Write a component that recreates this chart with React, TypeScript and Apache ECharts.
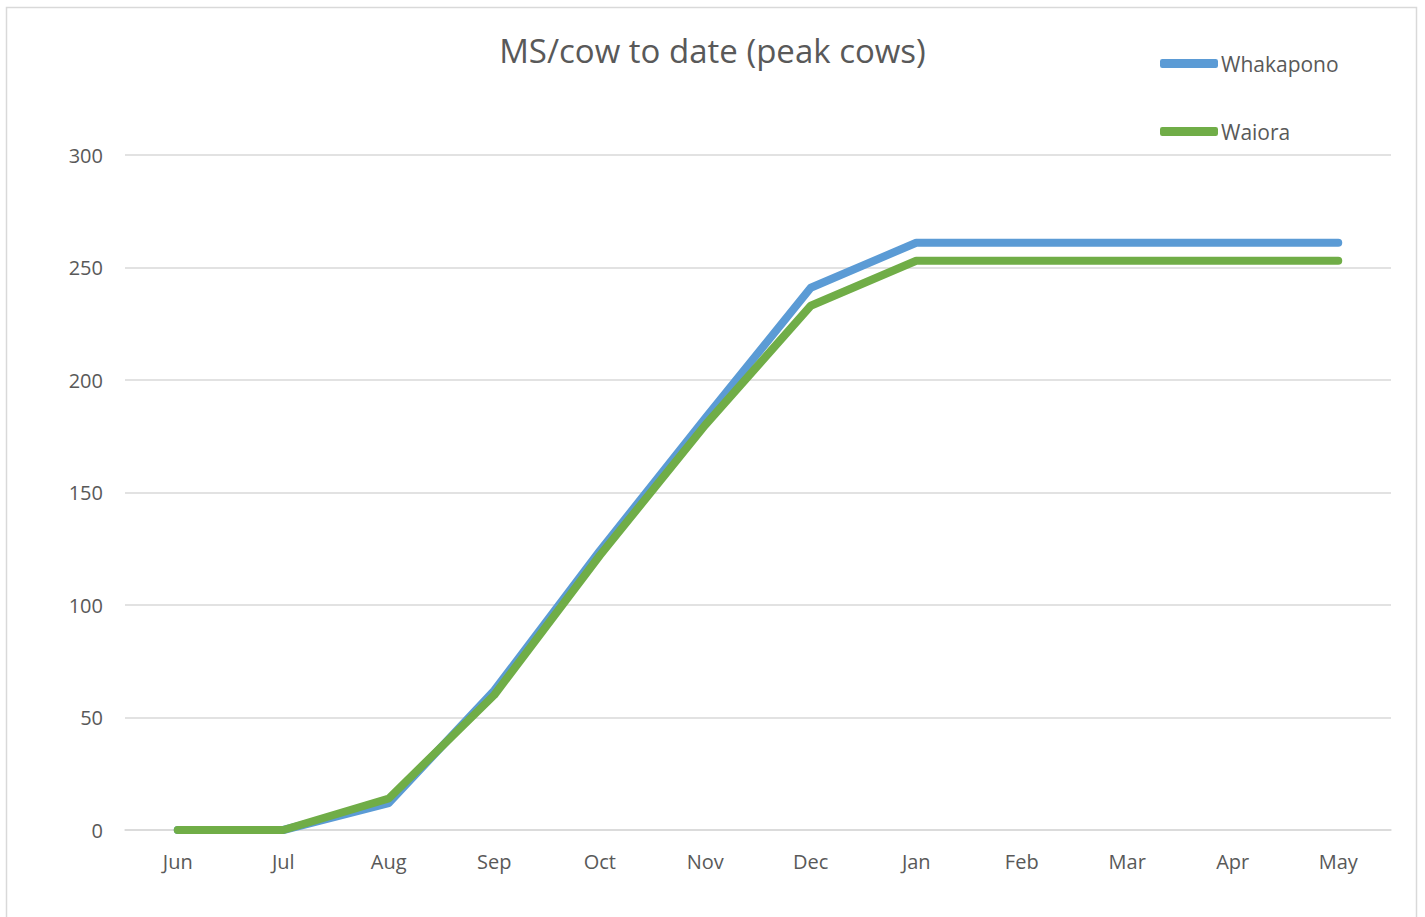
import React, { useEffect, useRef } from "react";
import * as echarts from "echarts";

const months = ["Jun", "Jul", "Aug", "Sep", "Oct", "Nov", "Dec", "Jan", "Feb", "Mar", "Apr", "May"];
const whakapono = [0, 0, 12, 62, 124, 183, 241, 261, 261, 261, 261, 261];
const waiora = [0, 0, 14, 60, 122, 180, 233, 253, 253, 253, 253, 253];
const yTicks = [0, 50, 100, 150, 200, 250, 300];

export default function App() {
  const ref = useRef<HTMLDivElement>(null);
  useEffect(() => {
    if (!ref.current) return;
    const chart = echarts.init(ref.current, undefined, { renderer: "svg" });
    const font = "'Open Sans', 'Noto Sans', sans-serif";
    chart.setOption({
      animation: false,
      backgroundColor: "#ffffff",
      title: {
        text: "MS/cow to date (peak cows)",
        left: "center",
        top: 29,
        textStyle: { fontFamily: font, fontSize: 33, fontWeight: "normal", color: "#595959" },
      },
      legend: {
        orient: "vertical",
        left: 1155,
        top: 48,
        itemWidth: 58,
        itemHeight: 9,
        itemGap: 47,
        icon: "roundRect",
        textStyle: { fontFamily: font, fontSize: 21, color: "#595959", padding: [0, 0, 0, -2] },
        data: ["Whakapono", "Waiora"],
      },
      graphic: [
        {
          type: "rect",
          shape: { x: 6.5, y: 7.5, width: 1410, height: 930 },
          style: { fill: "none", stroke: "#d9d9d9", lineWidth: 1.5 },
          silent: true,
        },
      ],
      grid: { left: 125, right: 34, top: 155, bottom: 87 },
      xAxis: {
        type: "category",
        data: months,
        boundaryGap: true,
        axisLine: { show: true, lineStyle: { color: "#d9d9d9", width: 1.5 } },
        axisTick: { show: false },
        axisLabel: { fontFamily: font, fontSize: 20, color: "#595959", margin: 21 },
      },
      yAxis: {
        type: "value",
        min: yTicks[0],
        max: yTicks[yTicks.length - 1],
        interval: 50,
        axisLine: { show: false },
        axisTick: { show: false },
        splitLine: { lineStyle: { color: "#d9d9d9", width: 1.5 } },
        axisLabel: { fontFamily: font, fontSize: 20, color: "#595959", margin: 22 },
      },
      series: [
        {
          name: "Whakapono",
          type: "line",
          data: whakapono,
          symbol: "none",
          itemStyle: { color: "#5b9bd5" },
          lineStyle: { color: "#5b9bd5", width: 8, cap: "round", join: "round" },
        },
        {
          name: "Waiora",
          type: "line",
          data: waiora,
          symbol: "none",
          itemStyle: { color: "#70ad47" },
          lineStyle: { color: "#70ad47", width: 8, cap: "round", join: "round" },
        },
      ],
    });
    return () => chart.dispose();
  }, []);
  return (
    <div
      ref={ref}
      style={{ position: "fixed", left: 0, top: 0, width: 1425, height: 917 }}
    />
  );
}
